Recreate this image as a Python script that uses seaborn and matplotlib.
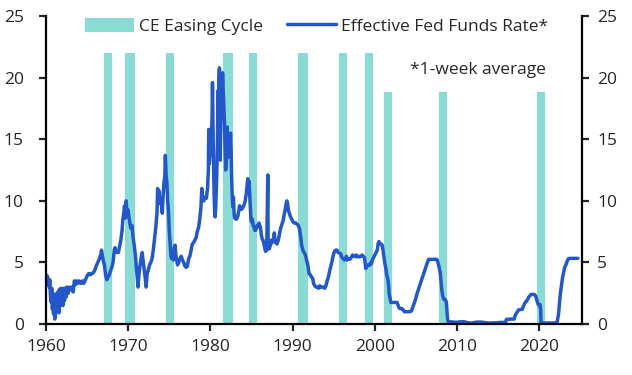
import numpy as np
import pandas as pd
import matplotlib
matplotlib.use("Agg")
import matplotlib.pyplot as plt
import seaborn as sns

# CE easing cycles (start year, end year, bar height)
cycle_start = [1967.0, 1969.6, 1974.6, 1981.5, 1984.7, 1990.7, 1995.6, 1998.8, 2001.1, 2007.8, 2019.7]
cycle_end = [1968.0, 1970.8, 1975.6, 1982.7, 1985.7, 1991.9, 1996.6, 1999.8, 2002.1, 2008.8, 2020.7]
cycle_height = [22, 22, 22, 22, 22, 22, 22, 22, 18.8, 18.8, 18.8]

# effective fed funds rate (1-week average)
ffr_year = [
    1960.00, 1960.15, 1960.30, 1960.40, 1960.45, 1960.55, 1960.62, 1960.70, 1960.78, 1960.85,
    1960.92, 1961.00, 1961.08, 1961.15, 1961.25, 1961.32, 1961.40, 1961.48, 1961.55, 1961.62,
    1961.72, 1961.80, 1961.88, 1961.95, 1962.05, 1962.15, 1962.25, 1962.35, 1962.45, 1962.55,
    1962.70, 1962.85, 1963.00, 1963.15, 1963.30, 1963.45, 1963.60, 1963.75, 1963.90, 1964.05,
    1964.25, 1964.45, 1964.60, 1964.80, 1965.00, 1965.20, 1965.40, 1965.60, 1965.80, 1965.95,
    1966.10, 1966.30, 1966.50, 1966.65, 1966.75, 1966.85, 1966.95, 1967.10, 1967.25, 1967.40,
    1967.55, 1967.70, 1967.85, 1968.00, 1968.15, 1968.30, 1968.40, 1968.50, 1968.65, 1968.80,
    1968.95, 1969.10, 1969.25, 1969.35, 1969.45, 1969.55, 1969.65, 1969.75, 1969.85, 1969.95,
    1970.05, 1970.15, 1970.30, 1970.45, 1970.60, 1970.75, 1970.90, 1971.00, 1971.10, 1971.20,
    1971.30, 1971.45, 1971.60, 1971.70, 1971.80, 1971.95, 1972.10, 1972.18, 1972.30, 1972.45,
    1972.60, 1972.75, 1972.90, 1973.05, 1973.20, 1973.35, 1973.50, 1973.58, 1973.65, 1973.75,
    1973.85, 1973.95, 1974.05, 1974.15, 1974.25, 1974.35, 1974.45, 1974.52, 1974.60, 1974.70,
    1974.80, 1974.90, 1975.00, 1975.10, 1975.20, 1975.30, 1975.40, 1975.50, 1975.60, 1975.70,
    1975.80, 1975.90, 1976.00, 1976.15, 1976.30, 1976.45, 1976.60, 1976.75, 1976.90, 1977.05,
    1977.20, 1977.35, 1977.50, 1977.65, 1977.80, 1977.95, 1978.10, 1978.25, 1978.40, 1978.55,
    1978.70, 1978.85, 1978.95, 1979.05, 1979.20, 1979.35, 1979.50, 1979.65, 1979.75, 1979.80,
    1979.85, 1979.95, 1980.05, 1980.15, 1980.22, 1980.25, 1980.30, 1980.38, 1980.45, 1980.52,
    1980.58, 1980.65, 1980.75, 1980.85, 1980.92, 1980.96, 1981.00, 1981.05, 1981.10, 1981.15,
    1981.20, 1981.25, 1981.32, 1981.40, 1981.48, 1981.55, 1981.62, 1981.70, 1981.78, 1981.85,
    1981.92, 1982.00, 1982.05, 1982.10, 1982.18, 1982.25, 1982.35, 1982.45, 1982.52, 1982.58,
    1982.65, 1982.72, 1982.80, 1982.88, 1982.95, 1983.05, 1983.15, 1983.25, 1983.35, 1983.45,
    1983.55, 1983.65, 1983.75, 1983.90, 1984.05, 1984.20, 1984.35, 1984.48, 1984.55, 1984.62,
    1984.70, 1984.78, 1984.86, 1984.93, 1985.00, 1985.10, 1985.20, 1985.30, 1985.40, 1985.50,
    1985.60, 1985.70, 1985.80, 1985.90, 1986.00, 1986.10, 1986.20, 1986.30, 1986.40, 1986.55,
    1986.70, 1986.85, 1986.98, 1987.02, 1987.15, 1987.30, 1987.40, 1987.50, 1987.65, 1987.78,
    1987.85, 1987.95, 1988.10, 1988.25, 1988.40, 1988.55, 1988.70, 1988.85, 1988.95, 1989.10,
    1989.22, 1989.30, 1989.40, 1989.50, 1989.60, 1989.75, 1989.90, 1990.05, 1990.20, 1990.40,
    1990.55, 1990.70, 1990.85, 1991.00, 1991.10, 1991.25, 1991.40, 1991.55, 1991.70, 1991.85,
    1992.00, 1992.15, 1992.30, 1992.45, 1992.55, 1992.70, 1992.85, 1993.00, 1993.15, 1993.30,
    1993.45, 1993.60, 1993.75, 1993.90, 1994.05, 1994.20, 1994.35, 1994.50, 1994.65, 1994.80,
    1994.95, 1995.10, 1995.25, 1995.40, 1995.55, 1995.70, 1995.85, 1996.00, 1996.15, 1996.30,
    1996.45, 1996.55, 1996.65, 1996.75, 1996.90, 1997.05, 1997.20, 1997.30, 1997.45, 1997.60,
    1997.72, 1997.85, 1998.00, 1998.15, 1998.30, 1998.45, 1998.60, 1998.75, 1998.82, 1998.90,
    1999.00, 1999.10, 1999.25, 1999.40, 1999.52, 1999.60, 1999.70, 1999.85, 2000.00, 2000.15,
    2000.30, 2000.40, 2000.50, 2000.60, 2000.75, 2000.90, 2001.00, 2001.10, 2001.20, 2001.35,
    2001.45, 2001.60, 2001.70, 2001.75, 2001.85, 2001.95, 2002.10, 2002.30, 2002.50, 2002.70,
    2002.85, 2002.95, 2003.10, 2003.30, 2003.50, 2003.60, 2003.90, 2004.20, 2004.45, 2004.55,
    2004.75, 2004.95, 2005.20, 2005.45, 2005.70, 2005.95, 2006.20, 2006.40, 2006.55, 2006.75,
    2007.00, 2007.30, 2007.55, 2007.68, 2007.80, 2007.95, 2008.05, 2008.15, 2008.25, 2008.40,
    2008.55, 2008.70, 2008.78, 2008.85, 2008.95, 2009.30, 2009.70, 2010.10, 2010.50, 2010.90,
    2011.30, 2011.80, 2012.30, 2012.80, 2013.30, 2013.80, 2014.30, 2014.80, 2015.30, 2015.90,
    2016.00, 2016.50, 2016.95, 2017.05, 2017.25, 2017.50, 2017.95, 2018.05, 2018.25, 2018.50,
    2018.75, 2019.00, 2019.40, 2019.55, 2019.65, 2019.80, 2019.90, 2020.10, 2020.18, 2020.22,
    2020.50, 2021.00, 2021.50, 2022.00, 2022.20, 2022.35, 2022.45, 2022.55, 2022.70, 2022.85,
    2023.00, 2023.10, 2023.25, 2023.40, 2023.55, 2023.70, 2024.20, 2024.70,
]
ffr_rate = [
    4.0, 3.9, 3.6, 3.0, 3.6, 2.2, 1.8, 2.9, 1.2, 2.5,
    0.8, 2.2, 0.4, 1.9, 1.0, 2.5, 1.3, 2.6, 0.9, 2.8,
    1.5, 2.9, 1.6, 2.7, 1.5, 2.9, 1.9, 2.9, 2.2, 3.0,
    2.5, 3.0, 2.8, 3.0, 2.6, 3.5, 3.2, 3.5, 3.3, 3.5,
    3.3, 3.5, 3.3, 3.6, 3.9, 4.1, 4.0, 4.1, 4.2, 4.4,
    4.7, 5.0, 5.3, 5.6, 6.0, 5.6, 5.2, 4.8, 4.0, 3.6,
    3.8, 4.0, 4.3, 4.6, 5.0, 6.0, 6.2, 5.8, 5.9, 5.8,
    6.3, 6.8, 7.6, 8.5, 8.9, 9.6, 8.6, 10.0, 8.8, 9.3,
    8.9, 8.4, 7.8, 8.0, 7.0, 6.3, 5.4, 4.5, 3.8, 3.0,
    4.0, 4.8, 5.5, 5.8, 5.2, 4.4, 3.6, 3.0, 4.1, 4.4,
    4.8, 5.0, 5.3, 6.0, 6.9, 7.8, 9.0, 11.0, 10.5, 10.8,
    9.8, 10.2, 9.6, 9.0, 10.5, 11.5, 12.0, 13.7, 12.2, 11.5,
    10.0, 9.2, 7.5, 6.5, 5.5, 5.3, 5.6, 5.2, 6.2, 6.4,
    5.6, 5.2, 4.8, 5.0, 5.3, 5.5, 5.2, 5.0, 4.7, 4.6,
    4.7, 5.3, 5.5, 6.0, 6.5, 6.6, 6.8, 7.0, 7.5, 7.8,
    8.5, 9.5, 11.0, 10.2, 10.0, 10.3, 10.2, 11.0, 12.5, 15.8,
    13.0, 13.8, 14.0, 15.5, 17.5, 19.6, 17.0, 13.0, 10.5, 9.0,
    8.7, 9.5, 11.5, 14.5, 18.5, 19.0, 17.0, 20.0, 20.8, 15.5,
    13.3, 16.0, 19.0, 17.5, 20.4, 19.0, 18.0, 16.5, 14.5, 12.5,
    13.0, 14.0, 16.0, 13.5, 15.0, 14.5, 14.5, 15.5, 14.0, 12.0,
    10.5, 9.5, 10.3, 9.0, 8.6, 8.7, 8.5, 8.6, 8.8, 9.2,
    9.6, 9.5, 9.3, 9.4, 9.6, 9.9, 10.5, 11.3, 11.8, 11.2,
    11.6, 10.5, 9.5, 8.5, 8.3, 8.5, 8.0, 7.9, 7.6, 7.6,
    7.9, 8.0, 7.9, 8.2, 8.0, 7.8, 7.2, 6.9, 6.8, 6.4,
    5.9, 6.0, 12.1, 6.2, 6.1, 6.4, 6.8, 6.6, 6.8, 7.4,
    6.8, 6.6, 6.5, 6.8, 7.3, 7.8, 8.1, 8.4, 8.8, 9.3,
    9.8, 10.0, 9.7, 9.2, 9.0, 8.7, 8.5, 8.3, 8.2, 8.2,
    8.1, 8.0, 7.7, 7.0, 6.4, 6.0, 5.8, 5.6, 5.2, 4.8,
    4.1, 4.0, 3.8, 3.7, 3.3, 3.1, 3.0, 3.0, 2.9, 3.1,
    3.0, 3.0, 3.0, 2.9, 3.1, 3.5, 3.8, 4.3, 4.7, 5.1,
    5.6, 5.9, 6.0, 6.0, 5.8, 5.75, 5.7, 5.4, 5.3, 5.2,
    5.35, 5.5, 5.2, 5.3, 5.25, 5.3, 5.5, 5.6, 5.5, 5.5,
    5.6, 5.45, 5.5, 5.45, 5.5, 5.6, 5.5, 5.4, 5.0, 4.5,
    4.7, 4.8, 4.75, 4.8, 5.0, 4.9, 5.2, 5.4, 5.6, 5.8,
    6.0, 6.5, 6.7, 6.5, 6.5, 6.4, 6.0, 5.5, 5.0, 4.5,
    4.0, 3.6, 3.0, 2.4, 2.1, 1.75, 1.75, 1.75, 1.75, 1.75,
    1.5, 1.3, 1.25, 1.25, 1.1, 1.0, 1.0, 1.0, 1.05, 1.25,
    1.6, 2.0, 2.6, 3.1, 3.6, 4.1, 4.6, 5.0, 5.25, 5.25,
    5.25, 5.25, 5.25, 5.0, 4.7, 4.2, 3.5, 2.8, 2.3, 2.0,
    2.0, 1.8, 1.0, 0.4, 0.15, 0.18, 0.14, 0.15, 0.19, 0.18,
    0.1, 0.08, 0.15, 0.16, 0.12, 0.08, 0.09, 0.1, 0.13, 0.13,
    0.37, 0.4, 0.4, 0.66, 0.9, 1.15, 1.2, 1.4, 1.7, 1.9,
    2.2, 2.4, 2.4, 2.3, 2.1, 1.75, 1.55, 1.58, 1.1, 0.1,
    0.08, 0.08, 0.08, 0.08, 0.2, 0.8, 1.6, 2.3, 3.1, 3.8,
    4.3, 4.6, 4.8, 5.1, 5.3, 5.33, 5.33, 5.33,
]

x_ticks = [1960, 1970, 1980, 1990, 2000, 2010, 2020]
y_ticks = [0, 5, 10, 15, 20, 25]

teal = "#88dcd4"
blue = "#2258cc"

sns.set_style("ticks")
plt.rcParams["font.family"] = ["Open Sans", "DejaVu Sans"]
plt.rcParams["font.size"] = 12

df = pd.DataFrame({"year": ffr_year, "rate": ffr_rate})

fig = plt.figure(figsize=(6.32, 3.75), dpi=100)
ax = fig.add_axes([0.0728, 0.136, 0.848, 0.821])

widths = [e - s for s, e in zip(cycle_start, cycle_end)]
ax.bar(cycle_start, cycle_height, width=widths, align="edge", color=teal,
       linewidth=0, zorder=1, label="CE Easing Cycle")
sns.lineplot(data=df, x="year", y="rate", ax=ax, color=blue, linewidth=2.5,
             estimator=None, sort=False, zorder=2, label="Effective Fed Funds Rate*")

ax.set_xlim(1960, 2025.2)
ax.set_ylim(0, 25)
ax.set_xticks(x_ticks)
ax.set_yticks(y_ticks)
ax.set_xlabel("")
ax.set_ylabel("")

ax2 = ax.twinx()
ax2.set_ylim(0, 25)
ax2.set_yticks(y_ticks)

for a in (ax, ax2):
    for side in ("left", "right", "bottom"):
        a.spines[side].set_linewidth(1.6)
        a.spines[side].set_color("black")
    a.spines["top"].set_visible(False)
ax.spines["right"].set_visible(False)
ax2.spines["left"].set_visible(False)
ax2.spines["bottom"].set_visible(False)

ax.tick_params(axis="x", direction="out", length=5, width=1.6, pad=6, labelsize=12.5)
ax.tick_params(axis="y", direction="out", length=5, width=1.6, pad=11, labelsize=12.5)
ax2.tick_params(axis="y", direction="out", length=5, width=1.6, pad=6, labelsize=12.5)

ax.text(0.805, 0.825, "*1-week average", transform=ax.transAxes, ha="center",
        va="center", fontsize=12.5)

handles, labels = ax.get_legend_handles_labels()
order = [labels.index("CE Easing Cycle"), labels.index("Effective Fed Funds Rate*")]
ax.legend([handles[i] for i in order], [labels[i] for i in order],
          loc="upper center", bbox_to_anchor=(0.505, 1.045), ncol=2, frameon=False,
          fontsize=12.5, handlelength=2.8, handleheight=0.9, columnspacing=1.4,
          handletextpad=0.3)

fig.savefig("out.png", dpi=100)
